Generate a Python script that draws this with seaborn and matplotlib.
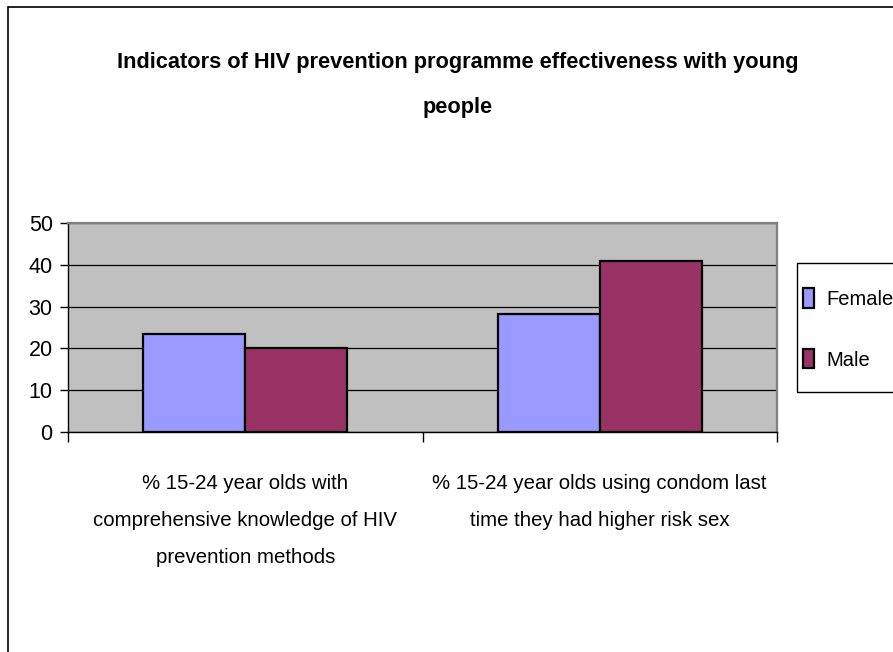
import matplotlib
matplotlib.use("Agg")
import matplotlib.pyplot as plt
from matplotlib.patches import Rectangle, Patch
from matplotlib.ticker import FixedLocator, NullFormatter
import seaborn as sns
import pandas as pd

# Data
categories = [
    "% 15-24 year olds with\ncomprehensive knowledge of HIV\nprevention methods",
    "% 15-24 year olds using condom last\ntime they had higher risk sex",
]
female = [23.4, 28.2]
male = [20.2, 41.0]
series = ["Female", "Male"]
colors = {"Female": "#9999FF", "Male": "#993366"}
yticks = [0, 10, 20, 30, 40, 50]

df = pd.DataFrame({
    "indicator": categories * 2,
    "value": female + male,
    "sex": ["Female"] * len(categories) + ["Male"] * len(categories),
})

sns.set_style("white")
plt.rcParams["font.family"] = ["Liberation Sans", "DejaVu Sans"]
plt.rcParams["text.color"] = "black"
plt.rcParams["xtick.labelcolor"] = "black"
plt.rcParams["ytick.labelcolor"] = "black"

W, H = 893, 652
fig = plt.figure(figsize=(W / 100, H / 100), dpi=100)
ax = fig.add_axes([68 / W, 1 - 432 / H, (777 - 68) / W, (432 - 223) / H])
ax.set_facecolor("#C0C0C0")

sns.barplot(data=df, x="indicator", y="value", hue="sex", order=categories,
            hue_order=series, palette=colors, width=0.575, saturation=1,
            edgecolor="black", linewidth=1.6, ax=ax, legend=False, zorder=3)

ax.set_ylim(0, 50)
ax.set_xlim(-0.5, 1.5)
ax.set_yticks(yticks)
ax.set_yticklabels([str(t) for t in yticks], fontsize=15.5)
ax.yaxis.grid(True, color="black", linewidth=0.9, zorder=1)
ax.set_axisbelow(True)
ax.tick_params(axis="y", which="major", direction="out", length=6, width=1,
               color="black", pad=5, left=True)
ax.tick_params(axis="x", which="major", length=0, pad=30, labelsize=14.7)
for lbl in ax.get_xticklabels():
    lbl.set_linespacing(2.2)
ax.xaxis.set_minor_locator(FixedLocator([-0.5, 0.5, 1.5]))
ax.xaxis.set_minor_formatter(NullFormatter())
ax.tick_params(axis="x", which="minor", direction="out", length=7, width=1,
               color="black", bottom=True)
ax.set_xlabel("")
ax.set_ylabel("")

for side in ["left", "bottom"]:
    ax.spines[side].set_color("black")
    ax.spines[side].set_linewidth(1.0)
for side in ["top", "right"]:
    ax.spines[side].set_color("#808080")
    ax.spines[side].set_linewidth(1.6)

# Title
fig.text(458 / W, 1 - 85 / H,
         "Indicators of HIV prevention programme effectiveness with young\npeople",
         ha="center", va="center", fontsize=15.7, fontweight="bold", linespacing=2.45)

# Legend (entries without their own frame; box drawn separately)
handles = [Patch(facecolor=colors[s], edgecolor="black", linewidth=1.6, label=s) for s in series]
leg = fig.legend(handles=handles, loc="center left",
                 bbox_to_anchor=(801 / W, 1 - 329 / H), fontsize=14.5,
                 frameon=False, handlelength=0.55, handleheight=1.1,
                 handletextpad=0.6, labelspacing=2.0, borderpad=0.1,
                 borderaxespad=0)
fig.patches.append(Rectangle((797 / W, 1 - 392 / H), 0.5, (392 - 263) / H,
                             transform=fig.transFigure, fill=False,
                             edgecolor="black", linewidth=1.0))

# Outer chart frame
fig.patches.append(Rectangle((8 / W, -0.1), 1.2, 1 - 7 / H + 0.1,
                             transform=fig.transFigure, fill=False,
                             edgecolor="black", linewidth=1.2))

fig.savefig("out.png", dpi=100)
